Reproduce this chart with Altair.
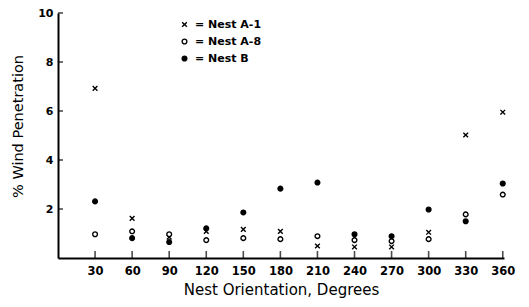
import altair as alt
import pandas as pd

orientations = [30, 60, 90, 120, 150, 180, 210, 240, 270, 300, 330, 360]
nest_a1 = [6.92, 1.62, 0.85, 1.09, 1.17, 1.09, 0.49, 0.45, 0.45, 1.05, 5.02, 5.95]
nest_a8 = [0.97, 1.09, 0.97, 0.73, 0.81, 0.77, 0.89, 0.73, 0.69, 0.77, 1.78, 2.59]
nest_b = [2.31, 0.81, 0.65, 1.21, 1.86, 2.83, 3.08, 0.97, 0.89, 1.98, 1.50, 3.04]
series_names = ["Nest A-1", "Nest A-8", "Nest B"]
x_ticks = orientations
y_ticks = [2, 4, 6, 8, 10]

rows = []
for name, vals in zip(series_names, [nest_a1, nest_a8, nest_b]):
    for o, v in zip(orientations, vals):
        rows.append({"orientation": o, "value": v, "nest": name})
df = pd.DataFrame(rows)

WIDE = "DejaVu Sans"
cross = "M-1,-1L1,1M1,-1L-1,1"

xscale = alt.Scale(domain=[0, 361], nice=False, zero=False)
yscale = alt.Scale(domain=[0, 10], nice=False)

legend_kw = dict(
    title=None, orient="none", legendX=121, legendY=6,
    labelExpr="'= ' + datum.label", labelFont=WIDE,
    labelFontWeight="bold", labelFontSize=11, labelColor="black",
    labelOffset=5, rowPadding=5, symbolSize=22,
    symbolStrokeColor="black", symbolStrokeWidth=1.4, symbolOpacity=1,
)

points = alt.Chart(df).mark_point(filled=True, strokeWidth=1.4, opacity=1, size=22).encode(
    x=alt.X("orientation:Q", scale=xscale,
            axis=alt.Axis(values=x_ticks, title="Nest Orientation, Degrees", grid=False,
                          ticks=False, tickSize=0, labelPadding=7, labelFont=WIDE,
                          labelFontWeight="bold", labelFontSize=11.5, labelColor="black",
                          domainColor="black", domainWidth=2,
                          titleFont=WIDE, titleFontSize=15, titleFontWeight="normal",
                          titleColor="black", titleX=223, titleY=31, titleAlign="center",
                          titleBaseline="middle")),
    y=alt.Y("value:Q", scale=yscale,
            axis=alt.Axis(values=y_ticks, title="% Wind Penetration", grid=False,
                          ticks=False, tickSize=0, labelPadding=5, labelFont=WIDE,
                          labelFontWeight="bold", labelFontSize=11, labelColor="black",
                          domainColor="black", domainWidth=2,
                          titleFont=WIDE, titleFontSize=14.5, titleFontWeight="normal",
                          titleColor="black", titleX=-40, titleY=113, titleAngle=-90,
                          titleAlign="center", titleBaseline="middle")),
    shape=alt.Shape("nest:N", scale=alt.Scale(domain=series_names, range=[cross, "circle", "circle"]),
                    legend=alt.Legend(**legend_kw)),
    fill=alt.Fill("nest:N", scale=alt.Scale(domain=series_names, range=["black", "white", "black"]),
                  legend=alt.Legend(**legend_kw)),
    stroke=alt.Stroke("nest:N", scale=alt.Scale(domain=series_names, range=["black", "black", "black"]),
                      legend=alt.Legend(**legend_kw)),
)

xtick_df = pd.DataFrame({"t": x_ticks})
ytick_df = pd.DataFrame({"t": y_ticks})

xticks = alt.Chart(xtick_df).mark_tick(orient="vertical", color="black", thickness=1.6, size=7, yOffset=-3.5).encode(
    x=alt.X("t:Q", scale=xscale),
    y=alt.YDatum(0),
)
yticks = alt.Chart(ytick_df).mark_tick(orient="horizontal", color="black", thickness=1.6, size=5, xOffset=2.5).encode(
    y=alt.Y("t:Q", scale=yscale),
    x=alt.XDatum(0),
)

chart = alt.layer(points, xticks, yticks).properties(
    width=446, height=245,
    autosize=alt.AutoSizeParams(type="none"),
    padding={"left": 50, "top": 5, "right": 17, "bottom": 40},
    background="white",
).configure_view(stroke=None)

chart.save("out.html", embed_options={"renderer": "svg", "actions": False})
